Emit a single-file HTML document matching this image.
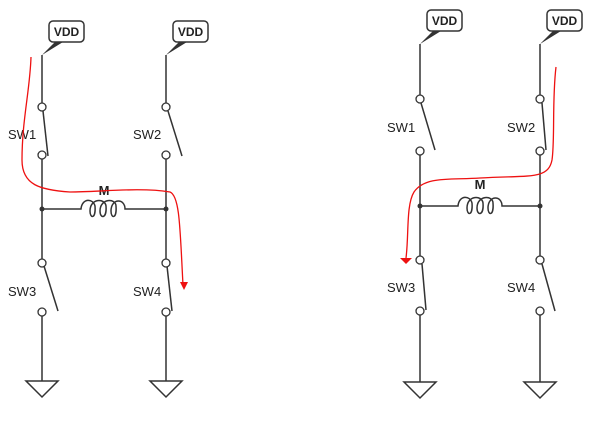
<!DOCTYPE html>
<html><head><style>body{margin:0;background:#fff}svg{display:block}</style></head><body>
<svg width="600" height="421" viewBox="0 0 600 421" xmlns="http://www.w3.org/2000/svg" font-family="Liberation Sans, sans-serif">
<defs>
<g id="vdd">
<rect x="0" y="0" width="35" height="21" rx="4" fill="#fff" stroke="#333" stroke-width="1.5"/>
<polygon points="6,21 -7,34 14,21" fill="#333"/>
<text x="17.5" y="15" font-size="12" font-weight="bold" text-anchor="middle" fill="#222">VDD</text>
</g>
<g id="coil" fill="none" stroke="#333" stroke-width="1.5">
<path d="M0,0 H3 C4,-11 15,-11 17,-3 C18,10 12,10 12,2 C12,-11 27,-11 28,-3 C29,10 22,10 22,2 C22,-11 38,-11 38,-3 C39,10 33,10 33,2 C33,-11 47,-11 47,0 H50"/>
</g>
<g id="gnd"><polygon points="-16,0 16,0 0,16" fill="#fff" stroke="#333" stroke-width="1.5"/></g>
</defs>
<g stroke="#333" stroke-width="1.5" fill="none">
<line x1="42" y1="55" x2="42" y2="104"/><line x1="42" y1="159" x2="42" y2="259"/><line x1="42" y1="316" x2="42" y2="381"/>
<line x1="166" y1="55" x2="166" y2="104"/><line x1="166" y1="159" x2="166" y2="259"/><line x1="166" y1="316" x2="166" y2="381"/>
<line x1="42" y1="209" x2="78" y2="209"/><line x1="128" y1="209" x2="166" y2="209"/>
<line x1="43" y1="111" x2="48" y2="156"/><line x1="168" y1="111" x2="182" y2="156"/>
<line x1="44" y1="266" x2="58" y2="311"/><line x1="167" y1="266" x2="172" y2="311"/>
<line x1="420" y1="44" x2="420" y2="95"/><line x1="420" y1="155" x2="420" y2="256"/><line x1="420" y1="315" x2="420" y2="382"/>
<line x1="540" y1="44" x2="540" y2="95"/><line x1="540" y1="155" x2="540" y2="256"/><line x1="540" y1="315" x2="540" y2="382"/>
<line x1="420" y1="206" x2="455" y2="206"/><line x1="505" y1="206" x2="540" y2="206"/>
<line x1="421" y1="103" x2="435" y2="150"/><line x1="542" y1="103" x2="546" y2="150"/>
<line x1="422" y1="264" x2="426" y2="310"/><line x1="542" y1="264" x2="555" y2="311"/>
</g>
<g fill="#fff" stroke="#333" stroke-width="1.3">
<circle cx="42" cy="107" r="4"/><circle cx="42" cy="155" r="4"/><circle cx="166" cy="107" r="4"/><circle cx="166" cy="155" r="4"/>
<circle cx="42" cy="263" r="4"/><circle cx="42" cy="312" r="4"/><circle cx="166" cy="263" r="4"/><circle cx="166" cy="312" r="4"/>
<circle cx="420" cy="99" r="4"/><circle cx="420" cy="151" r="4"/><circle cx="540" cy="99" r="4"/><circle cx="540" cy="151" r="4"/>
<circle cx="420" cy="260" r="4"/><circle cx="420" cy="311" r="4"/><circle cx="540" cy="260" r="4"/><circle cx="540" cy="311" r="4"/>
</g>
<g fill="#333"><circle cx="42" cy="209" r="2.5"/><circle cx="166" cy="209" r="2.5"/><circle cx="420" cy="206" r="2.5"/><circle cx="540" cy="206" r="2.5"/></g>
<use href="#coil" x="78" y="209"/><use href="#coil" x="455" y="206"/>
<use href="#vdd" x="49" y="21"/><use href="#vdd" x="173" y="21"/>
<use href="#vdd" x="427" y="10"/><use href="#vdd" x="547" y="10"/>
<use href="#gnd" x="42" y="381"/><use href="#gnd" x="166" y="381"/>
<use href="#gnd" x="420" y="382"/><use href="#gnd" x="540" y="382"/>
<g font-size="13" fill="#222">
<text x="8" y="139">SW1</text><text x="133" y="139">SW2</text>
<text x="8" y="296">SW3</text><text x="133" y="296">SW4</text>
<text x="387" y="132">SW1</text><text x="507" y="132">SW2</text>
<text x="387" y="292">SW3</text><text x="507" y="292">SW4</text>
<text x="104" y="195" text-anchor="middle" font-weight="bold">M</text>
<text x="480" y="189" text-anchor="middle" font-weight="bold">M</text>
</g>
<g fill="none" stroke="#e11" stroke-width="1.3">
<path d="M31,57 C30,90 22,120 22,160 C22,185 40,190 70,192 C100,192 140,187 170,192 C180,196 180,230 183,285"/>
<path d="M556,67 C552,100 555,140 552,160 C548,180 530,175 480,178 C450,180 425,176 414,192 C406,205 409,235 406,258"/>
</g>
<g fill="#e11"><polygon points="180,282 188,282 184,290"/><polygon points="400,258 412,258 406,264"/></g>
</svg>
</body></html>
